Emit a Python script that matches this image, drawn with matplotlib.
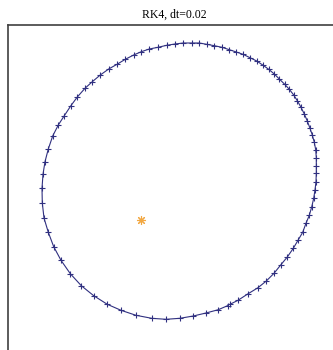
import numpy as np
import matplotlib
matplotlib.use("Agg")
import matplotlib.pyplot as plt

# orbit samples (sun at the origin)
x = [0.89, 0.97, 1.067, 1.17, 1.253, 1.33, 1.397, 1.463, 1.523, 1.57,
     1.617, 1.65, 1.683, 1.707, 1.727, 1.74, 1.75, 1.753, 1.753, 1.753,
     1.747, 1.733, 1.713, 1.69, 1.663, 1.633, 1.60, 1.563, 1.527, 1.483,
     1.437, 1.383, 1.333, 1.277, 1.217, 1.157, 1.09, 1.02, 0.953, 0.883,
     0.81, 0.733, 0.657, 0.583, 0.507, 0.423, 0.34, 0.257, 0.17, 0.083,
     0.003, -0.073, -0.157, -0.24, -0.323, -0.407, -0.487, -0.56, -0.637, -0.703,
     -0.767, -0.827, -0.883, -0.927, -0.96, -0.98, -0.99, -0.987, -0.97, -0.927,
     -0.873, -0.80, -0.707, -0.597, -0.473, -0.337, -0.20, -0.05, 0.107, 0.25,
     0.39, 0.523, 0.65, 0.773, 0.87]
y = [-0.843, -0.803, -0.74, -0.677, -0.61, -0.533, -0.45, -0.37, -0.283, -0.203,
     -0.123, -0.033, 0.047, 0.13, 0.217, 0.30, 0.383, 0.47, 0.543, 0.623,
     0.703, 0.777, 0.85, 0.917, 0.99, 1.06, 1.127, 1.193, 1.25, 1.307,
     1.357, 1.41, 1.46, 1.507, 1.55, 1.59, 1.623, 1.657, 1.68, 1.703,
     1.727, 1.743, 1.757, 1.77, 1.77, 1.77, 1.76, 1.747, 1.727, 1.71,
     1.683, 1.65, 1.607, 1.557, 1.51, 1.45, 1.383, 1.317, 1.23, 1.14,
     1.043, 0.95, 0.84, 0.71, 0.583, 0.457, 0.317, 0.17, 0.02, -0.123,
     -0.267, -0.403, -0.537, -0.657, -0.757, -0.843, -0.903, -0.953, -0.983, -0.993,
     -0.983, -0.96, -0.93, -0.897, -0.855]
sun = [0.0, 0.0]

W, H = 333, 350
fig = plt.figure(figsize=(W / 100, H / 100), dpi=100)
# axes box runs off the right and bottom edges
left, top, right, bottom = 8, 25, 340, 360
ax = fig.add_axes([left / W, 1 - bottom / H, (right - left) / W, (bottom - top) / H])

ax.plot(x, y, color="#303080", lw=0.8, marker="+", ms=4.5, mew=0.8)
ax.plot(sun[0], sun[1], ls="none", marker=(8, 2, 0), ms=6.5, mew=0.8, color="#f2a843")

s = 100.0  # pixels per unit
ax.set_xlim((left - 141) / s, (right - 141) / s)
ax.set_ylim((220 - bottom) / s, (220 - top) / s)
ax.set_xticks([])
ax.set_yticks([])
for sp in ax.spines.values():
    sp.set_color("#404040")
    sp.set_linewidth(1.2)

ax.set_title("RK4, dt=0.02", family="Liberation Serif", fontsize=8.5, pad=5)

fig.savefig("out.png", dpi=100)
